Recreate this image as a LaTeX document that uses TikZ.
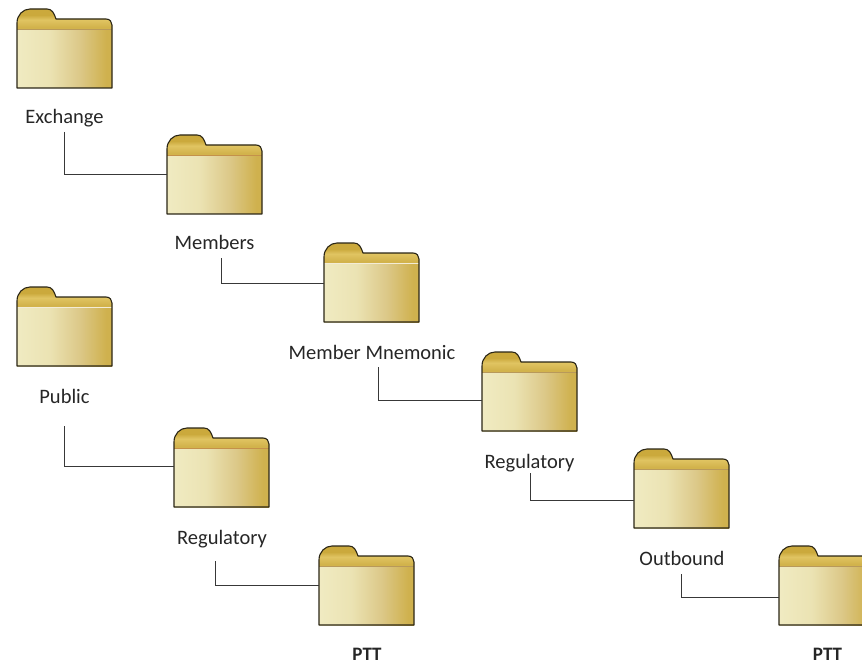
\documentclass[tikz,border=0pt]{standalone}
\usepackage{fontspec}
\setmainfont{Carlito}
\definecolor{fbA}{HTML}{F1ECC4}
\definecolor{fbB}{HTML}{EBE3B3}
\definecolor{fbC}{HTML}{DCC888}
\definecolor{fbD}{HTML}{CFB14E}
\definecolor{ftA}{HTML}{CBA93C}
\definecolor{ftB}{HTML}{D2B34C}
\definecolor{ftC}{HTML}{E0C462}
\definecolor{edge}{HTML}{2B2616}
\definecolor{bandTan}{HTML}{B8995A}
\definecolor{bandOrange}{HTML}{C4914A}
\definecolor{bandWhite}{HTML}{F3ECD6}
\pgfdeclarehorizontalshading{folderbody}{100bp}{
  color(0bp)=(fbA); color(22bp)=(fbA); color(42bp)=(fbB); color(58bp)=(fbC); color(72bp)=(fbD); color(100bp)=(fbD)}
\pgfdeclareverticalshading{foldertab}{100bp}{
  color(0bp)=(ftB); color(30bp)=(ftB); color(48bp)=(ftC); color(60bp)=(ftA); color(100bp)=(ftA)}
\tikzset{
  folderbox/.style={minimum width=95pt,minimum height=79pt,inner sep=0pt,outer sep=0pt},
  lab/.style={font=\fontsize{20.5}{24}\selectfont,text=black!85,inner sep=0pt,anchor=base},
  boldlab/.style={lab,font=\fontsize{19}{22}\selectfont\bfseries},
  conn/.style={draw=black!78,line width=1.1pt},
}
\newcommand{\folderat}[4]{%
  \node[folderbox] (#1) at (#2+47.5,#3+39.5) {};
  \begin{scope}[shift={(#2,#3)}]
    \path[shading=folderbody] (0,20) rectangle (95,79);
    \path[shading=foldertab] (0,20) -- (0,14) .. controls (0,6) and (6,0) .. (13,0) -- (30,0)
       .. controls (35,0) and (37,4) .. (39,10) -- (89,10)
       .. controls (93,10) and (95,13) .. (95,16) -- (95,20) -- cycle;
    \draw[#4,line width=.9pt] (0,20) -- (95,20);
    \draw[edge,line width=1.1pt,line join=round] (0,79) -- (0,14) .. controls (0,6) and (6,0) .. (13,0) -- (30,0)
       .. controls (35,0) and (37,4) .. (39,10) -- (89,10)
       .. controls (93,10) and (95,13) .. (95,16) -- (95,79) -- cycle;
  \end{scope}}
\begin{document}
\begin{tikzpicture}[x=1pt,y=-1pt]
\useasboundingbox (0,0) rectangle (862,663);
\clip (0,0) rectangle (862,663);
\folderat{fExchange}{17}{9}{bandTan}
\folderat{fMembers}{167}{135}{bandOrange}
\folderat{fMnemonic}{324}{243}{bandWhite}
\folderat{fRegA}{482}{352}{bandTan}
\folderat{fOutbound}{634}{449}{bandTan}
\folderat{fPttB}{779}{546}{bandTan}
\folderat{fPublic}{17}{287}{bandWhite}
\folderat{fRegB}{174}{428}{bandOrange}
\folderat{fPttA}{319}{546}{bandTan}
\node[lab] (lExchange) at (64.5,124) {Exchange};
\node[lab] (lMembers) at (214.5,250) {Members};
\node[lab] (lMnemonic) at (372,359) {Member Mnemonic};
\node[lab] (lRegA) at (529.5,468) {Regulatory};
\node[lab] (lOutbound) at (682,565) {Outbound};
\node[lab] (lPublic) at (64.5,403) {Public};
\node[lab] (lRegB) at (222,544) {Regulatory};
\node[boldlab] (lPttA) at (367,660) {PTT};
\node[boldlab] (lPttB) at (827.5,660) {PTT};
\coordinate (sExchange) at (64.6,132);
\coordinate (sMembers) at (221.6,258);
\coordinate (sMnemonic) at (378.6,367);
\coordinate (sRegA) at (530.6,473);
\coordinate (sOutbound) at (681.6,574);
\coordinate (sPublic) at (64.6,426);
\coordinate (sRegB) at (215.6,561);
\draw[conn] (sExchange) |- ([yshift=-.1pt]fMembers.west);
\draw[conn] (sMembers) |- ([yshift=-1.1pt]fMnemonic.west);
\draw[conn] (sMnemonic) |- ([yshift=-8.6pt]fRegA.west);
\draw[conn] (sRegA) |- ([yshift=-12.1pt]fOutbound.west);
\draw[conn] (sOutbound) |- ([yshift=-12.1pt]fPttB.west);
\draw[conn] (sPublic) |- ([yshift=.9pt]fRegB.west);
\draw[conn] (sRegB) |- ([yshift=-.1pt]fPttA.west);
\end{tikzpicture}
\end{document}
